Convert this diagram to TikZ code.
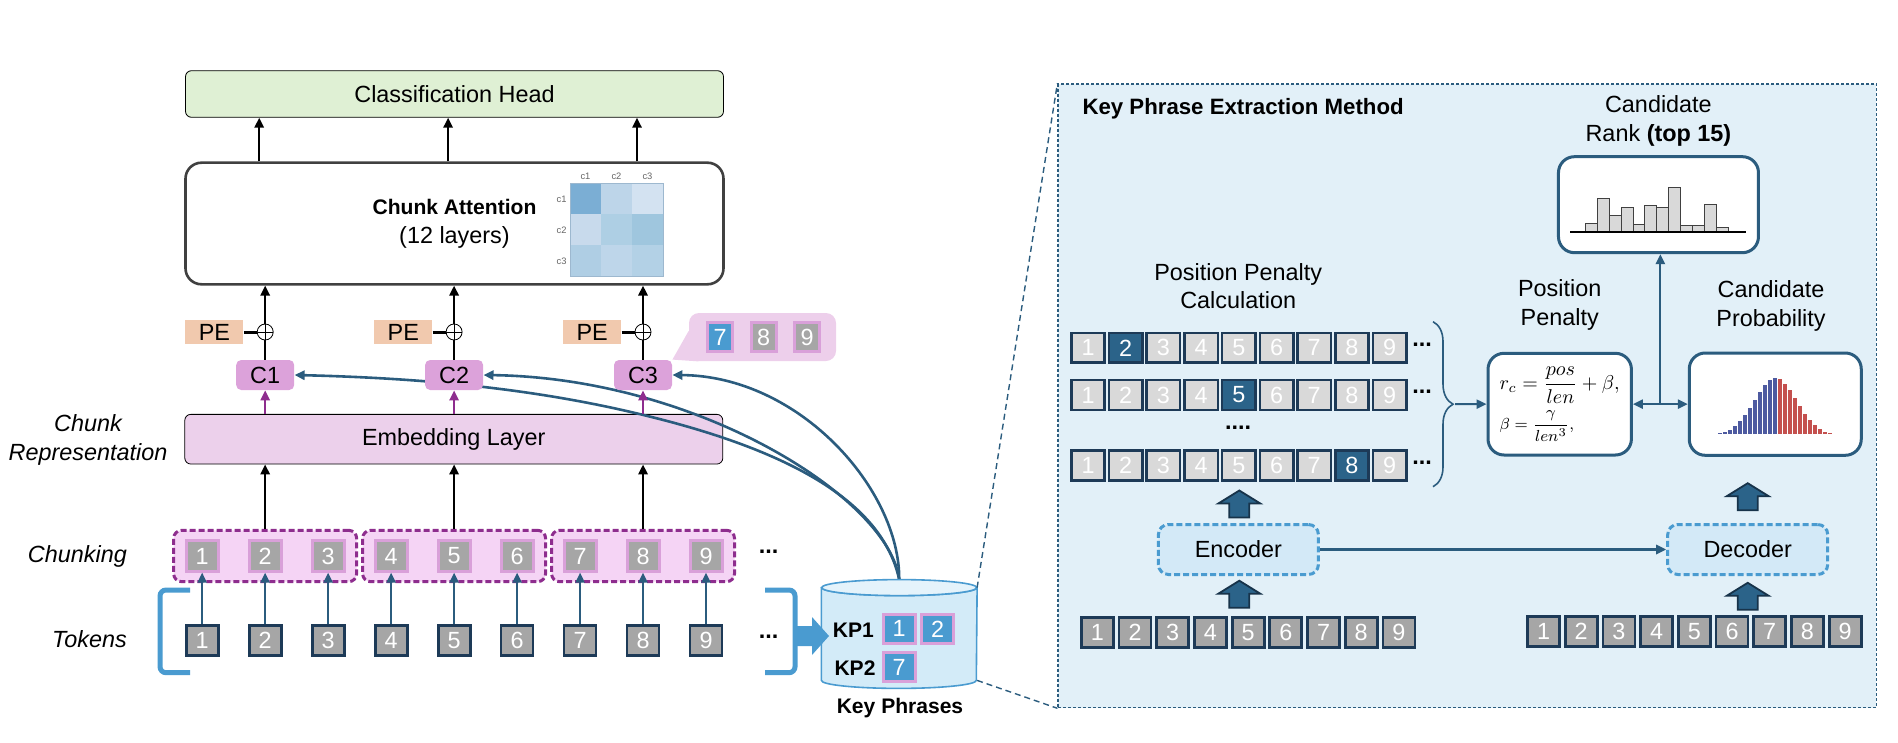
\documentclass[tikz,border=0pt]{standalone}
\usepackage{amsmath}
\usepackage{fontspec}
\setmainfont{Liberation Sans}[Scale=1.17]
\usepackage{tikz}
\usetikzlibrary{positioning}
\usetikzlibrary{calc}
\usetikzlibrary{fit}
\usetikzlibrary{arrows.meta}
\usetikzlibrary{decorations.pathreplacing}

\pgfdeclarelayer{background}
\pgfdeclarelayer{links}
\pgfsetlayers{background,links,main}

\definecolor{clsgreen}{HTML}{DFF0D4}
\definecolor{attnline}{HTML}{404040}
\definecolor{pefill}{HTML}{F1C9AE}
\definecolor{cfill}{HTML}{DCA2DA}
\definecolor{callfill}{HTML}{EDCFEB}
\definecolor{pinkline}{HTML}{D9A0D9}
\definecolor{embfill}{HTML}{ECD0EB}
\definecolor{chunkfill}{HTML}{F5D4F5}
\definecolor{chunkline}{HTML}{8E2D8E}
\definecolor{tokgray}{HTML}{A6A6A6}
\definecolor{toknavy}{HTML}{1D3A57}
\definecolor{linkblue}{HTML}{2B5C7E}
\definecolor{kpfill}{HTML}{4A9BD0}
\definecolor{cylfill}{HTML}{D3EBF8}
\definecolor{cyltop}{HTML}{E4F3FB}
\definecolor{panelfill}{HTML}{E2F0F8}
\definecolor{encfill}{HTML}{D3E9F7}
\definecolor{penaltygray}{HTML}{D9D9D9}
\definecolor{hiblue}{HTML}{2B6389}
\definecolor{darknavy}{HTML}{17334A}
\definecolor{barblue}{HTML}{4D5AA0}
\definecolor{barred}{HTML}{C4504E}
\definecolor{hmline}{HTML}{9DB8CF}

\begin{document}
\begin{tikzpicture}[x=0.5pt, y=-0.5pt, >={Triangle[length=5pt,width=4.6pt]},
	layerbox/.style={draw, rounded corners=3pt, minimum width=269pt, inner sep=0pt},
	tok/.style={draw=toknavy, line width=1.4pt, fill=tokgray, text=white, minimum width=16pt, minimum height=15pt, inner sep=0pt},
	chtok/.style={draw=pinkline, line width=1.5pt, fill=tokgray, text=white, minimum width=16pt, minimum height=15.2pt, inner sep=0pt},
	kptok/.style={chtok, fill=kpfill, minimum height=14.6pt},
	ptok/.style={tok, line width=1.3pt, minimum width=16.7pt, minimum height=14.9pt},
	cbox/.style={fill=cfill, rounded corners=2.5pt, minimum width=29pt, minimum height=15pt, inner sep=0pt},
	pebox/.style={fill=pefill, minimum width=29pt, minimum height=12pt, inner sep=0pt},
	oplus/.style={circle, draw, fill=white, minimum size=8pt, inner sep=0pt,
		path picture={\draw (path picture bounding box.north) -- (path picture bounding box.south) (path picture bounding box.west) -- (path picture bounding box.east);}},
	chunkgroup/.style={draw=chunkline, dash pattern=on 3pt off 1.5pt, line width=1.5pt, fill=chunkfill, rounded corners=4pt, inner xsep=5.5pt, inner ysep=4.5pt},
	kplink/.style={draw=linkblue, line width=1.3pt},
	panelbox/.style={draw=linkblue, line width=1.5pt, fill=white, rounded corners=8pt, inner sep=0pt},
	coder/.style={draw=kpfill, dash pattern=on 3pt off 1.5pt, line width=1.5pt, fill=encfill, rounded corners=5pt, minimum width=80pt, minimum height=25pt},
	fatup/.pic={\filldraw[fill=hiblue, draw=darknavy, line width=0.9pt] (0,-13.5) -- (21,-0.5) -- (10,-0.5) -- (10,13.5) -- (-10,13.5) -- (-10,-0.5) -- (-21,-0.5) -- cycle;},
	hmlabel/.style={font=\fontsize{4}{5}\selectfont, text=black!60, inner sep=0pt},
	lbl/.style={align=center},
	zoomline/.style={draw=linkblue, line width=0.7pt, dash pattern=on 3pt off 2pt}]
	\useasboundingbox (0,0) rectangle (1898,743);

	% Classification Head and Chunk Attention %
	\node[layerbox, fill=clsgreen, minimum height=23.3pt] (cls) at (454.5,94) {Classification Head};
	\node[layerbox, draw=attnline, line width=1.3pt, rounded corners=8pt, minimum height=60.8pt, align=center] (attn) at (454.5,223.5) {{\small\bfseries Chunk Attention}\\[2.5pt](12 layers)};
	% Attention map %
	\foreach \col/\i/\j in {7BAED4/0/0, BDD5E9/1/0, D3E2F1/2/0, C8DAEC/0/1, AECFE4/1/1, 9FC6DE/2/1, AFCEE4/0/2, BED6EA/1/2, B3D1E6/2/2} {
		\definecolor{hm}{HTML}{\col}
		\fill[hm] (570+31*\i,183.3+31*\j) rectangle ++(31,31);
	}
	\draw[hmline, line width=0.5pt] (570,183.3) rectangle (663,276.3);
	\foreach \k in {1,2,3} {
		\node[hmlabel] (hmtop\k) at (554.5+31*\k,176) {c\k};
		\node[hmlabel] (hmleft\k) at (561.6,168.3+31*\k) {c\k};
	}

	% Chunk vectors, PE and sum %
	\foreach \n/\x in {1/265.2, 2/454.1, 3/643} {
		\node[cbox] (c\n) at (\x,375) {C\n};
		\node[oplus] (op\n) at (\x,332) {};
		\node[pebox, left=6.5pt of op\n] (pe\n) {PE};
		\draw[line width=1.5pt] (pe\n) -- (op\n);
		\draw[line width=1.2pt] (c\n) -- (op\n);
		\draw[->, line width=1.2pt] (op\n) -- (op\n |- attn.south);
		\draw[->, line width=1.2pt] ($(attn.north -| op\n)+(-6,0)$) -- ($(cls.south -| op\n)+(-6,0)$);
	}
	% Callout of C3 %
	\node[fill=callfill, rounded corners=5pt, minimum width=73.5pt, minimum height=24pt, inner sep=0pt] (callbox) at (762.5,337) {};
	\fill[callfill] (c3.north east) -- ([yshift=3pt]callbox.west) -- ([xshift=5pt]callbox.south west) -- cycle;
	\node[kptok, minimum width=12.5pt, minimum height=14.5pt] (call7) at (720,337) {7};
	\node[chtok, minimum width=12.5pt, minimum height=14.5pt] (call8) at (763.5,337) {8};
	\node[chtok, minimum width=12.5pt, minimum height=14.5pt] (call9) at (807,337) {9};

	% Embedding Layer %
	\begin{pgfonlayer}{background}
		\node[layerbox, fill=embfill, minimum height=24.85pt] (emb) at (453.8,439.2) {Embedding Layer};
	\end{pgfonlayer}

	% Tokens and chunking %
	\foreach \k in {1,...,9} {
		\node[chtok] (ck-\k) at (139.2+62.98*\k,556) {\k};
		\node[tok] (t-\k) at (139.2+62.98*\k,640.4) {\k};
		\draw[->, draw=linkblue, line width=1pt] (t-\k) -- (ck-\k);
	}
	\begin{pgfonlayer}{background}
		\node[chunkgroup, fit=(ck-1)(ck-3)] (g1) {};
		\node[chunkgroup, fit=(ck-4)(ck-6)] (g2) {};
		\node[chunkgroup, fit=(ck-7)(ck-9)] (g3) {};
	\end{pgfonlayer}
	\foreach \n/\k in {1/2, 2/5, 3/8} {
		\draw[->, line width=1.2pt] (g\n.north -| ck-\k) -- (emb.south -| ck-\k);
		\draw[->, draw=chunkline, line width=1.1pt] (emb.north -| c\n) -- (c\n);
	}
	\node (chdots) at (768.5,552) {\textbf{...}};
	\node (tokdots) at (768.5,637) {\textbf{...}};
	\draw[draw=kpfill, line width=2.5pt, rounded corners=3pt] (190,590) -- (160,590) -- (160,672.7) -- (190,672.7);
	\draw[draw=kpfill, line width=2.5pt, rounded corners=3pt] (765,590) -- (795,590) -- (795,672.7) -- (765,672.7);

	% Labels %
	\node[lbl, font=\itshape] (reprlbl) at (88,440) {Chunk\\[2.5pt]Representation};
	\node[font=\itshape, anchor=east] (chunklbl) at (135,556.7) {Chunking};
	\node[font=\itshape, anchor=east] (toklbl) at (135,639.3) {Tokens};

	% Key Phrases store %
	\node[minimum width=77.5pt, minimum height=54pt, inner sep=0pt] (kp) at (899.2,634) {};
	\filldraw[fill=cylfill, draw=kpfill, line width=0.8pt] ([yshift=-4pt]kp.north west) -- ([yshift=4pt]kp.south west) arc[start angle=180, end angle=360, x radius=38.75pt, y radius=4pt] -- ([yshift=-4pt]kp.north east) arc[start angle=0, end angle=-180, x radius=38.75pt, y radius=4pt] -- cycle;
	\filldraw[fill=cyltop, draw=kpfill, line width=0.8pt] ([yshift=-4pt]kp.north) ellipse [x radius=38.75pt, y radius=4pt];
	\node[font=\bfseries\small] (kp1lbl) at (853.3,630) {KP1};
	\node[kptok] (kp1a) at (899.2,628.9) {1};
	\node[kptok] (kp1b) at (937.5,628.9) {2};
	\node[font=\bfseries\small] (kp2lbl) at (855,668.3) {KP2};
	\node[kptok] (kp2a) at (899.2,667) {7};
	\node[font=\bfseries\small] (kplbl) at (900,708.3) {Key Phrases};
	% block arrow into the store %
	\fill[kpfill] (797,626) -- (812,626) -- (812,617) -- (829,636) -- (812,655) -- (812,646) -- (797,646) -- cycle;

	% Key phrases to chunks %
	\begin{pgfonlayer}{links}
		\draw[->, kplink] (kp.north) .. controls (900,490) and (800,376) .. (c3.east);
		\draw[->, kplink] (kp.north) .. controls (890,500) and (700,378) .. (c2.east);
		\draw[->, kplink] (kp.north) .. controls (880,490) and (760,440) .. (613,408) .. controls (520,388) and (420,378) .. (c1.east);
	\end{pgfonlayer}

	% Extraction panel %
	\node[draw=linkblue, fill=panelfill, line width=0.6pt, dash pattern=on 1.5pt off 1pt, minimum width=409.2pt, minimum height=311.85pt, inner sep=0pt] (panel) at (1467.2,395.85) {};
	\draw[zoomline] ([yshift=-4pt]kp.north east) -- (panel.north west);
	\draw[zoomline] ([yshift=4pt]kp.south east) -- (panel.south west);
	\node[font=\bfseries\fontsize{9.5}{11}\selectfont, anchor=west] (paneltitle) at (1074.3,108.3) {Key Phrase Extraction Method};

	% Candidate rank %
	\node[lbl] (ranklbl) at (1658.4,120.5) {Candidate\\[2.5pt]Rank \textbf{(top 15)}};
	\node[panelbox, minimum width=100pt, minimum height=48pt] (rank) at (1658.45,204.7) {};
	\foreach \h [count=\i from 0] in {8,33.3,16,24.7,7.7,26.7,24.7,44.7,6,6,27.3,4.7}
		\filldraw[fill=penaltygray, draw=attnline, line width=0.5pt] (1585.4+11.9*\i,232) rectangle ++(11.9,-\h);
	\draw[line width=0.9pt] (1570.3,232) -- (1746,232);

	% Position penalty rows %
	\node[lbl] (pcalclbl) at (1238.2,285.85) {Position Penalty\\[2.2pt]Calculation};
	\foreach \r/\y/\h in {1/347.85/2, 2/395/5, 4/465.5/8} {
		\foreach \k in {1,...,9} {
			\ifnum\k=\h \def\fillc{hiblue}\else\def\fillc{penaltygray}\fi
			\node[ptok, fill=\fillc] (r\r-\k) at (1050.3+37.7*\k,\y) {\k};
		}
		\node (rdots\r) at (1422,\y-3) {\textbf{...}};
	}
	\node (rdots3) at (1238,428) {\textbf{....}};
	\draw[draw=linkblue, line width=0.8pt, decorate, decoration={brace, amplitude=10pt}] (1433,321.7) -- (1433,486.7);
	\coordinate (bracetip) at (1455,404.2);

	% Position penalty and candidate probability %
	\node[lbl] (pplbl) at (1559.7,305) {Position\\[2.3pt]Penalty};
	\node[panelbox, minimum width=71.7pt, minimum height=50.85pt, align=left, font=\fontsize{10}{12}\selectfont] (pp) at (1559.7,404.15) {$r_c=\dfrac{pos}{len}+\beta,$\\[3pt]{\fontsize{8.5}{10}\selectfont$\beta=\dfrac{\gamma}{len^3},$}};
	\node[lbl] (problbl) at (1771,305.85) {Candidate\\[2.3pt]Probability};
	\node[panelbox, minimum width=86pt, minimum height=51.15pt] (prob) at (1775.25,404.15) {};
	\foreach \i in {0,...,28} {
		\pgfmathsetmacro\bx{1704.5+5*\i}
		\pgfmathsetmacro\bh{57*exp(-((\bx-1775)^2)/882)}
		\ifnum\i<15 \def\bc{barblue}\else\def\bc{barred}\fi
		\filldraw[fill=\bc, draw=white, line width=0.25pt] (\bx-2.5,434.3) rectangle (\bx+2.5,434.3-\bh);
	}
	\draw[->, kplink, line width=1pt] (bracetip) -- (pp.west);
	\draw[<->, kplink, line width=1pt] (pp) -- (prob);
	\coordinate (ppmid) at ($(pp.east)!0.5!(prob.west)$);
	\draw[->, kplink, line width=1pt] (ppmid) -- (ppmid |- rank.south);

	% Encoder and decoder %
	\node[coder] (enc) at (1238.4,549.5) {Encoder};
	\node[coder] (dec) at (1747.7,549.5) {Decoder};
	\draw[->, kplink, line width=1.4pt] (enc) -- (dec);
	\foreach \k in {1,...,9} {
		\node[tok] (e-\k) at (1059.6+37.7*\k,632.15) {\k};
		\node[tok] (d-\k) at (1505.8+37.7*\k,631.8) {\k};
	}
	\pic (encin) at (1239.3,594.2) {fatup};
	\pic (encout) at (1239.3,504) {fatup};
	\pic (decin) at (1747.7,596.3) {fatup};
	\pic (decout) at (1747.7,496.7) {fatup};
\end{tikzpicture}
\end{document}
